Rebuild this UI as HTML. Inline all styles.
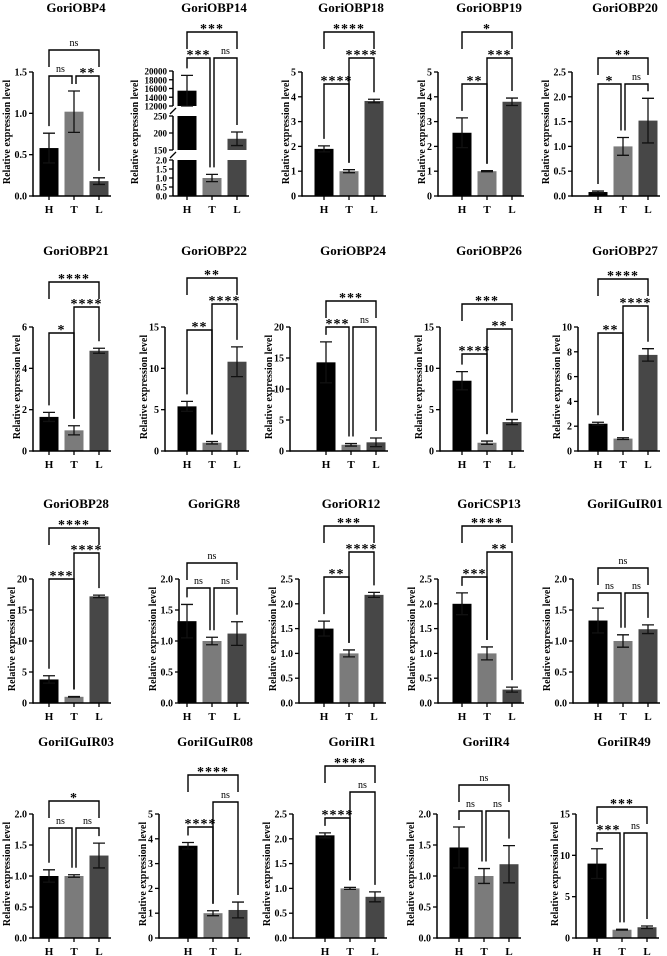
<!DOCTYPE html>
<html><head><meta charset="utf-8">
<style>
html,body{margin:0;padding:0;background:#fff;}
svg{display:block;font-family:"Liberation Serif",serif;font-weight:bold;}
</style></head>
<body>
<svg id="fig" width="667" height="956" viewBox="0 0 667 956"></svg>
<script>
const genes = ["GoriOBP4","GoriOBP14","GoriOBP18","GoriOBP19","GoriOBP20",
"GoriOBP21","GoriOBP22","GoriOBP24","GoriOBP26","GoriOBP27",
"GoriOBP28","GoriGR8","GoriOR12","GoriCSP13","GoriIGuIR01",
"GoriIGuIR03","GoriIGuIR08","GoriIR1","GoriIR4","GoriIR49"];
const groups = ["H","T","L"];
const meansH = [0.58,15500,1.9,2.55,0.08, 1.65,5.4,14.3,8.5,2.2, 3.8,1.32,1.5,2.0,1.33, 1.0,3.72,2.07,1.46,9.0];
const errH   = [0.18,3500,0.12,0.6,0.02, 0.22,0.6,3.3,1.1,0.12, 0.6,0.27,0.15,0.22,0.2, 0.1,0.13,0.05,0.33,1.8];
const meansT = [1.02,1.0,1.0,1.0,1.0, 1.0,1.0,1.0,1.0,1.0, 1.0,1.0,1.0,1.0,1.0, 1.0,1.0,1.0,1.0,1.0];
const errT   = [0.25,0.2,0.06,0.02,0.18, 0.22,0.15,0.2,0.2,0.07, 0.05,0.06,0.07,0.13,0.1, 0.02,0.1,0.02,0.12,0.05];
const meansL = [0.18,183,3.83,3.8,1.52, 4.85,10.8,1.4,3.5,7.75, 17.2,1.12,2.18,0.27,1.19, 1.33,1.13,0.83,1.19,1.3];
const errL   = [0.04,20,0.07,0.15,0.45, 0.12,1.8,0.7,0.3,0.5, 0.2,0.19,0.05,0.05,0.07, 0.2,0.32,0.1,0.3,0.15];
const yMax   = [1.5,null,5,5,2.5, 6,15,20,15,10, 20,2,2.5,2.5,2, 2,5,2.5,2,15];
const yStep  = [0.5,null,1,1,0.5, 2,5,5,5,2, 5,0.5,0.5,0.5,0.5, 0.5,1,0.5,0.5,5];
const sigHT  = ["ns","***","****","**","*", "*","**","***","****","**", "***","ns","**","***","ns", "ns","****","****","ns","***"];
const sigTL  = ["**","ns","****","***","ns", "****","****","ns","**","****", "****","ns","****","**","ns", "ns","ns","ns","ns","ns"];
const sigHL  = ["ns","***","****","*","**", "****","**","***","***","****", "****","ns","***","****","ns", "*","****","****","ns","***"];
// broken axis for GoriOBP14
const brkTicks0 = [0,0.5,1.0,1.5,2.0];
const brkTicks1 = [150,200,250];
const brkTicks2 = [12000,14000,16000,18000,20000];

// ---- layout (not data) ----
const rowTop = [72,327,579,814];
const titleY = [12,255,508,746];
const axisXs = [[33,173,302,438,572],[33,165,290,440,578],[33,179,299,438,573],[33,159,293,437,576]];
const hXs = [[49,187,324,462,598],[49,187,326,462,598],[49,187,324,462,598],[49,188,325,459,597]];
const lvHT = [4,-14,12,12,12, 6,3,0,27,6, 0,9,-2,-2,14, 14,13,4,-3,19];
const lvTL = [4,-14,-14,-14,12, -20,-23,0,2,-21, -26,9,-27,-27,14, 14,-12,-22,-3,19];
const lvHL = [-22,-40,-40,-40,-14, -45,-49,-26,-23,-48, -51,-16,-53,-53,-11, -13,-39,-48,-29,-7];
const colors = ["#000000","#7b7b7b","#474747"];
const AH = 124, SP = 25, BW = 19, CAP = 12;

const svg = document.getElementById('fig');
const NS = "http://www.w3.org/2000/svg";
function mk(tag, attrs, parent){
  const e = document.createElementNS(NS, tag);
  for (const k in attrs) e.setAttribute(k, attrs[k]);
  (parent||svg).appendChild(e);
  return e;
}
function txt(s, attrs, parent){ const e = mk('text', attrs, parent); e.textContent = s; return e; }

for (let i = 0; i < genes.length; i++) {
  const r = Math.floor(i/5), c = i%5;
  const top = rowTop[r], bot = top + AH;
  const ax = axisXs[r][c], hx = hXs[r][c];
  const xs = [hx, hx+SP, hx+2*SP];
  const g = mk('g', {});
  
  
  const broken = (yMax[i] === null);
  let yf, segs = null;
  if (!broken) {
    yf = v => bot - v / yMax[i] * AH;
  } else {
    segs = [{lo:0,hi:2,y0:bot,y1:bot-36,t:brkTicks0},{lo:150,hi:250,y0:bot-46,y1:bot-80,t:brkTicks1},{lo:12000,hi:20000,y0:bot-90,y1:bot-125,t:brkTicks2}];
    yf = v => { let s = segs[0]; for (const sg of segs) if (v >= sg.lo) s = sg; return s.y0 - (Math.min(v,s.hi)-s.lo)/(s.hi-s.lo)*(s.y0-s.y1); };
  }
  const t = txt(genes[i], {x: xs[1]+2, y: titleY[r], 'font-size':13, 'text-anchor':'middle'}, g);
  
  
  const means = [meansH[i], meansT[i], meansL[i]];
  const errs = [errH[i], errT[i], errL[i]];
  for (let k = 0; k < 3; k++) {
    if (!broken) {
      const b = mk('rect', {x: xs[k]-BW/2, y: yf(means[k]), width: BW, height: bot - yf(means[k]), fill: colors[k]}, g);
      
      
    } else {
      for (const sg of segs) {
        if (means[k] > sg.lo) {
          const yt = sg.y0 - (Math.min(means[k],sg.hi)-sg.lo)/(sg.hi-sg.lo)*(sg.y0-sg.y1);
          const b = mk('rect', {x: xs[k]-BW/2, y: yt, width: BW, height: sg.y0 - yt, fill: colors[k]}, g);
          
          
        }
      }
    }
    const yh = yf(means[k]+errs[k]), yl = yf(Math.max(means[k]-errs[k], 0));
    const eb = mk('path', {d:`M${xs[k]} ${yh}V${yl}M${xs[k]-CAP/2} ${yh}H${xs[k]+CAP/2}M${xs[k]-CAP/2} ${yl}H${xs[k]+CAP/2}`, stroke:'#111', 'stroke-width':1.3, fill:'none'}, g);
    
    
    const xl = txt(groups[k], {x: xs[k], y: bot+17, 'font-size':11, 'text-anchor':'middle'}, g);
    
    
    mk('line', {x1: xs[k], x2: xs[k], y1: bot, y2: bot+4, stroke:'#000', 'stroke-width':1.3}, g);
  }
  const xa = mk('line', {x1: ax, x2: xs[2]+12, y1: bot, y2: bot, stroke:'#000', 'stroke-width':1.5}, g);
  
  
  let maxLab = 0;
  const tickSets = broken ? segs.map(s => s.t) : [[...Array(Math.round(yMax[i]/yStep[i])+1).keys()].map(n => n*yStep[i])];
  if (!broken) {
    const ya = mk('line', {x1: ax, x2: ax, y1: top, y2: bot+0.75, stroke:'#000', 'stroke-width':1.5}, g);
    
    
  } else {
    for (const sg of segs) {
      const ya = mk('line', {x1: ax, x2: ax, y1: sg.y1, y2: sg.y0, stroke:'#000', 'stroke-width':1.5}, g);
      
      
    }
    mk('path', {d:`M${ax-3} ${bot-38}L${ax+3} ${bot-44}M${ax-3} ${bot-82}L${ax+3} ${bot-88}`, stroke:'#000','stroke-width':1.3,fill:'none'}, g);
  }
  const fs = broken ? 9 : 10;
  tickSets.forEach(ts => ts.forEach(v => {
    const y = yf(v);
    mk('line', {x1: ax-4, x2: ax, y1: y, y2: y, stroke:'#000', 'stroke-width':1.3}, g);
    const s = (broken ? (v < 10 ? v.toFixed(1) : String(v)) : (yStep[i] < 1 ? v.toFixed(1) : String(v)));
    maxLab = Math.max(maxLab, s.length);
    const tl = txt(s, {x: ax-6, y: y+3.5, 'font-size':fs, 'text-anchor':'end'}, g);
    
    
  }));
  const labW = maxLab * (broken ? 5.4 : 5.0);
  const ytx = ax - labW - 8, yty = (top+bot)/2 - 2;
  const yt = txt('Relative expression level', {x: ytx, y: yty, 'font-size':10, 'text-anchor':'middle', transform:`rotate(-90 ${ytx} ${yty})`}, g);
  
  
  const tops = [0,1,2].map(k => yf(means[k]+errs[k]));
  const sameLv = lvHT[i] === lvTL[i];
  const brs = [
    {a:0,b:1,lab:sigHT[i],dy:lvHT[i],span:false,n:'ht'},
    {a:1,b:2,lab:sigTL[i],dy:lvTL[i],span:false,n:'tl'},
    {a:0,b:2,lab:sigHL[i],dy:lvHL[i],span:true,n:'hl'}];
  for (const br of brs) {
    const by = top + br.dy;
    let x1 = xs[br.a], x2 = xs[br.b];
    if (sameLv && !br.span) { if (br.a===0) x2 -= 2; else x1 += 2; }
    const leg = k => br.span ? Math.min(by+17, Math.max(by+4, tops[k]-7)) : Math.max(by+4, tops[k]-7);
    const p = mk('path', {d:`M${x1} ${leg(br.a)}V${by}H${x2}V${leg(br.b)}`, stroke:'#000','stroke-width':1.4,fill:'none'}, g);
    
    
    const isNs = br.lab === 'ns';
    const lt = txt(br.lab, {x:(x1+x2)/2, y: isNs ? by-4 : by+1, 'font-size': isNs ? 10 : 14, 'font-weight': isNs ? 'normal' : 'bold', 'text-anchor':'middle', 'letter-spacing': isNs ? 0 : 1}, g);
    
    
  }
}
</script>
</body></html>
